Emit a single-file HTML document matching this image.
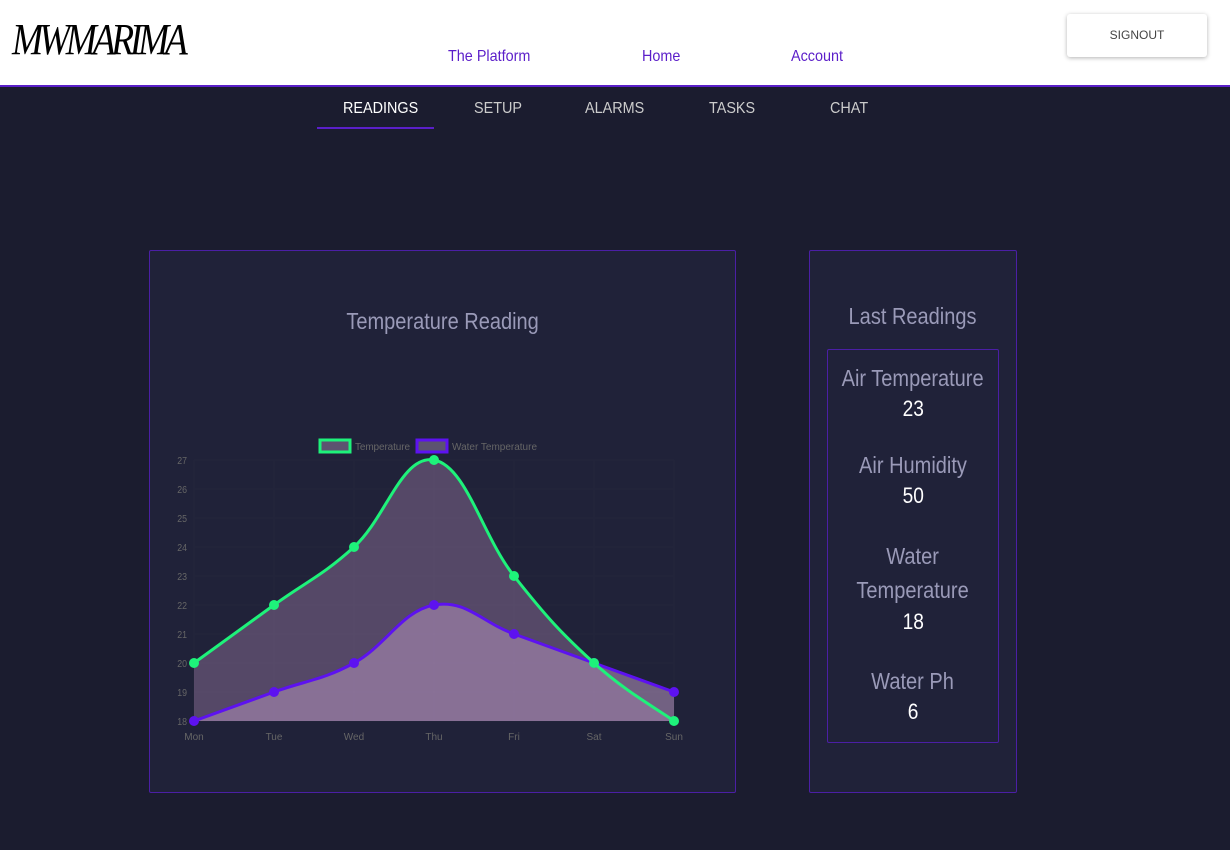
<!DOCTYPE html>
<html><head><meta charset="utf-8">
<style>
body{margin:0;width:1230px;height:850px;overflow:hidden;background:#1b1c2f;font-family:"Liberation Sans",sans-serif;position:relative}
.hdr{position:absolute;left:0;top:0;width:1230px;height:85px;background:#fff;border-bottom:2px solid #5a1fc8}
.nav{position:absolute;top:48px;color:#5b1ec9;font-size:16px;transform:scaleX(.9);transform-origin:left}
.sign{position:absolute;left:1067px;top:14px;width:140px;height:43px;background:#fff;box-shadow:0 1px 4px rgba(0,0,0,.3);font-size:12px;color:#444;text-align:center;line-height:43px;border-radius:3px}
.tab{position:absolute;top:100px;color:#ccc;font-size:16px;transform:scaleX(.9);transform-origin:left}
.card{position:absolute;background:#202239;border:1px solid #4b1fa5;border-radius:2px}
.lbl{color:#9a9ab8;font-size:23px;text-align:center}
.lbl span,.val span{display:inline-block;transform:scaleX(.87)}
.val{color:#fff;font-size:22px;text-align:center}
</style></head><body>
<div class="hdr">
<div style="position:absolute;left:12px;top:14px;font-family:'Liberation Serif',serif;font-size:44px;font-style:italic;color:#000;letter-spacing:-5px;transform:scaleX(.85);transform-origin:left">MWMARIMA</div>
<div class="nav" style="left:448px">The Platform</div>
<div class="nav" style="left:642px">Home</div>
<div class="nav" style="left:791px">Account</div>
<div class="sign">SIGNOUT</div>
</div>
<div class="tab" style="left:343px;color:#fff">READINGS</div>
<div style="position:absolute;left:317px;top:127px;width:117px;height:2px;background:#5a1fc8"></div>
<div class="tab" style="left:474px">SETUP</div>
<div class="tab" style="left:585px">ALARMS</div>
<div class="tab" style="left:709px">TASKS</div>
<div class="tab" style="left:830px">CHAT</div>

<div class="card" style="left:149px;top:250px;width:585px;height:541px">
<div class="lbl" style="position:absolute;top:57px;width:585px"><span>Temperature Reading</span></div>
</div>
<svg id="chart" style="position:absolute;left:0;top:0" width="1230" height="850"></svg>

<div class="card" style="left:809px;top:250px;width:206px;height:541px">
<div class="lbl" style="margin-top:52px"><span>Last Readings</span></div>
<div style="position:absolute;left:17px;top:98px;width:170px;height:392px;border:1px solid #4b1fa5;border-radius:2px">
<div class="lbl" style="margin-top:15px"><span>Air Temperature</span></div>
<div class="val" style="margin-top:4px"><span>23</span></div>
<div class="lbl" style="margin-top:30px"><span>Air Humidity</span></div>
<div class="val" style="margin-top:4px"><span>50</span></div>
<div class="lbl" style="margin-top:30px;line-height:34px"><span>Water<br>Temperature</span></div>
<div class="val" style="margin-top:2px"><span>18</span></div>
<div class="lbl" style="margin-top:33px"><span>Water Ph</span></div>
<div class="val" style="margin-top:4px"><span>6</span></div>
</div></div>
<script>
const categories=["Mon","Tue","Wed","Thu","Fri","Sat","Sun"];
const tempValues=[20,22,24,27,23,20,18];
const waterValues=[18,19,20,22,21,20,19];
const yTicks=[18,19,20,21,22,23,24,25,26,27];
const svg=document.getElementById('chart');const NS="http://www.w3.org/2000/svg";
const x0=194,x1=674,yTop=460,yBot=721,ymin=18,ymax=27;
const X=i=>x0+i*(x1-x0)/(categories.length-1);
const Y=v=>yBot-(v-ymin)*(yBot-yTop)/(ymax-ymin);
function mk(t,a){const e=document.createElementNS(NS,t);for(const k in a)e.setAttribute(k,a[k]);svg.appendChild(e);return e;}
yTicks.forEach(t=>{const g=mk('line',{x1:x0,x2:x1,y1:Y(t),y2:Y(t),stroke:'#23253c','stroke-width':1});

const l=mk('text',{x:187,y:Y(t)+4,'text-anchor':'end','font-size':10,fill:'#666','font-family':'Liberation Sans',transform:`translate(${187*0.12},0) scale(0.88,1)`});l.textContent=t;
});
categories.forEach((c,i)=>{const g=mk('line',{x1:X(i),x2:X(i),y1:yTop,y2:yBot,stroke:'#23253c'});

const l=mk('text',{x:X(i),y:740,'text-anchor':'middle','font-size':10,fill:'#666','font-family':'Liberation Sans'});l.textContent=c;
});
function curve(vals){const p=vals.map((v,i)=>[X(i),Y(v)]);let d=`M${p[0][0]},${p[0][1]}`;const t=0.4;
for(let i=0;i<p.length-1;i++){const p0=p[i-1]||p[i],p1=p[i],p2=p[i+1],p3=p[i+2]||p2;
const c1=[p1[0]+(p2[0]-p0[0])*t/2,p1[1]+(p2[1]-p0[1])*t/2],c2=[p2[0]-(p3[0]-p1[0])*t/2,p2[1]-(p3[1]-p1[1])*t/2];
d+=` C${c1[0]},${c1[1]} ${c2[0]},${c2[1]} ${p2[0]},${p2[1]}`;}return d;}
function area(vals,fill,name){const a=mk('path',{d:curve(vals)+` L${X(vals.length-1)},${yBot} L${x0},${yBot} Z`,fill:fill});
}
function line(vals,stroke,name){const l=mk('path',{d:curve(vals),fill:'none',stroke:stroke,'stroke-width':3});

vals.forEach((v,i)=>{const c=mk('circle',{cx:X(i),cy:Y(v),r:5,fill:stroke});
});}
area(tempValues,'rgba(150,120,160,0.45)','temperature');
area(waterValues,'rgba(170,140,180,0.6)','water-temperature');
line(waterValues,'#5d12f0','water-temperature');
line(tempValues,'#1ef27a','temperature');
const lg=[[320,'#1ef27a','Temperature'],[417,'#5d12f0','Water Temperature']];
lg.forEach(([lx,c,t])=>{const r=mk('rect',{x:lx,y:440,width:30,height:12,fill:'#5c5370',stroke:c,'stroke-width':3});

const tx=mk('text',{x:lx+35,y:450,'font-size':10,fill:'#666','font-family':'Liberation Sans','textLength':t.length*5.0});tx.textContent=t;
});
</script>
</body></html>
